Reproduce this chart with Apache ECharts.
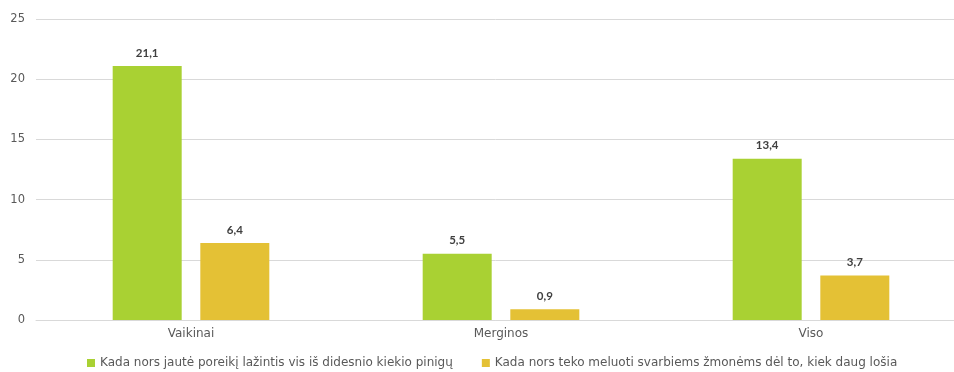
<!DOCTYPE html>
<html>
<head>
<meta charset="utf-8">
<script src="https://cdn.jsdelivr.net/npm/echarts@6/dist/echarts.min.js"></script>
<style>
  html, body { margin: 0; padding: 0; background: #ffffff; }
  #chart { width: 954px; height: 372px; }
</style>
</head>
<body>
<div id="chart"></div>
<script>
// Categories and series values
const categories = ['Vaikinai', 'Merginos', 'Viso'];
const seriesNames = [
  'Kada nors jautė poreikį lažintis vis iš didesnio kiekio pinigų',
  'Kada nors teko meluoti svarbiems žmonėms dėl to, kiek daug lošia'
];
const needMoreMoney = [21.1, 5.5, 13.4];
const liedToOthers = [6.4, 0.9, 3.7];
const yTicks = [0, 5, 10, 15, 20, 25];

const colors = ['#A9D133', '#E4C135'];
const textFont = '"DejaVu Sans", sans-serif';
const valueFont = 'Lato, sans-serif';

const chart = echarts.init(document.getElementById('chart'), null, { renderer: 'canvas' });

const labelStyle = {
  show: true,
  position: 'top',
  distance: 7,
  color: '#404040',
  fontWeight: 'bold',
  fontSize: 11.5,
  fontFamily: valueFont,
  formatter: p => p.value.toFixed(1).replace('.', ',')
};

chart.setOption({
  animation: false,
  backgroundColor: '#ffffff',
  color: colors,
  // plot area runs past the right edge of the canvas
  grid: { left: 36, top: 19, width: 930, height: 301, containLabel: false, outerBoundsMode: 'none' },
  legend: {
    top: 352,
    left: 82,
    itemWidth: 8,
    itemHeight: 8,
    itemGap: 29,
    icon: 'rect',
    textStyle: { color: '#595959', fontSize: 12, fontFamily: textFont },
    data: seriesNames
  },
  xAxis: {
    type: 'category',
    data: categories,
    axisLine: { show: true, lineStyle: { color: '#d9d9d9' } },
    axisTick: { show: false },
    axisLabel: { color: '#595959', fontSize: 12, fontFamily: textFont, margin: 8 }
  },
  yAxis: {
    type: 'value',
    min: yTicks[0],
    max: yTicks[yTicks.length - 1],
    interval: 5,
    axisLine: { show: false },
    axisTick: { show: false },
    splitLine: { lineStyle: { color: '#d9d9d9' } },
    axisLabel: { color: '#595959', fontSize: 11.5, fontFamily: textFont, margin: 11 }
  },
  series: [
    {
      name: seriesNames[0],
      type: 'bar',
      data: needMoreMoney,
      barWidth: 69,
      barGap: '27%',
      itemStyle: { color: colors[0] },
      label: labelStyle
    },
    {
      name: seriesNames[1],
      type: 'bar',
      data: liedToOthers,
      barWidth: 69,
      barGap: '27%',
      itemStyle: { color: colors[1] },
      label: labelStyle
    }
  ]
});
</script>
</body>
</html>
